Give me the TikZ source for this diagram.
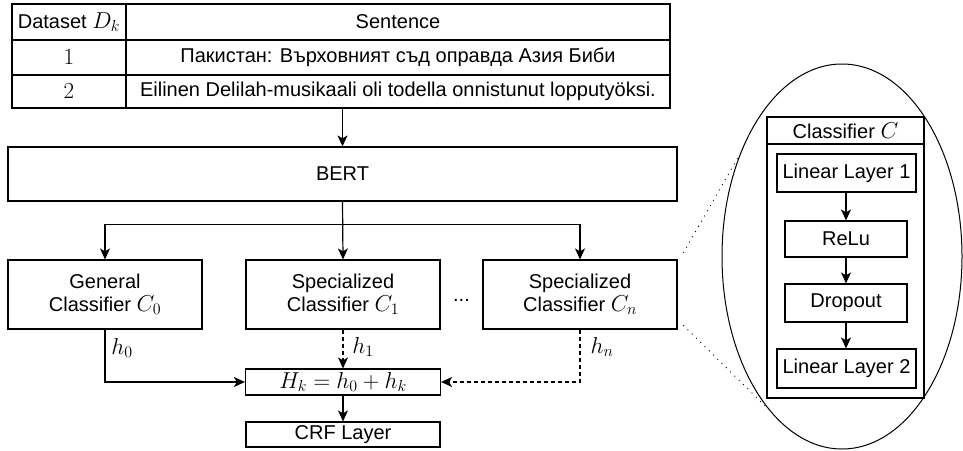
\RequirePackage{fix-cm}
\documentclass[tikz,border=0pt]{standalone}
\usepackage{fontspec}
\setmainfont{Liberation Sans}
\DeclareMathSizes{20}{23}{16}{12}
\usetikzlibrary{arrows.meta,shapes.geometric,calc}
\begin{document}
\begin{tikzpicture}[x=1pt,y=-1pt,
  font=\fontsize{20}{23}\selectfont,
  box/.style={draw, line width=1.2pt, inner sep=0pt, align=center},
  arr/.style={line width=1.2pt, -{Stealth[length=11pt,width=10pt,inset=3pt]}},
  dsh/.style={dash pattern=on 4pt off 3pt},
  dots/.style={line width=1.3pt, line cap=round, dash pattern=on 0pt off 6pt},
  lab/.style={inner sep=0pt}]
\useasboundingbox (0,0) rectangle (963,450);

% table
\node[box, minimum width=114pt, minimum height=36pt] (t11) at (69,22) {Dataset $D_k$};
\node[box, minimum width=544pt, minimum height=36pt] (t12) at (398,22) {Sentence};
\node[box, minimum width=114pt, minimum height=35pt] (t21) at (69,57.5) {$1$};
\node[box, minimum width=544pt, minimum height=35pt] (t22) at (398,57.5) {Пакистан: Върховният съд оправда Азия Биби};
\node[box, minimum width=114pt, minimum height=33pt] (t31) at (69,91.5) {$2$};
\node[box, minimum width=544pt, minimum height=33pt] (t32) at (398,91.5) {Eilinen Delilah-musikaali oli todella onnistunut lopputyöksi.};

% BERT
\node[box, minimum width=669pt, minimum height=54pt] (bert) at (342.5,174) {BERT};

% classifiers
\node[box, minimum width=194pt, minimum height=69pt] (gen) at (105,294.5) {General\\Classifier $C_0$};
\node[box, minimum width=194pt, minimum height=69pt] (c1) at (343,294.5) {Specialized\\Classifier $C_1$};
\node[box, minimum width=194pt, minimum height=69pt] (cn) at (580,294.5) {Specialized\\Classifier $C_n$};
\node[lab, anchor=base] (dd) at (461.5,301) {...};

% sum and CRF
\node[box, minimum width=195pt, minimum height=26pt] (hk) at (343,382) {$H_k = h_0 + h_k$};
\node[box, minimum width=194pt, minimum height=25pt] (crf) at (343,434.5) {CRF Layer};

% labels
\node[lab] (l0) at (122,348) {$h_0$};
\node[lab] (l1) at (363,347) {$h_1$};
\node[lab] (ln) at (602,347) {$h_n$};

% connectors
\draw[arr] (t31.south -| bert.north) -- (bert.north);
\draw[arr] (bert.south) -- (c1.north);
\draw[arr] (bert.south) -- ++(0,23) -| (gen.north);
\draw[arr] (bert.south) -- ++(0,23) -| (cn.north);
\draw[arr] (gen.south) |- (hk.west);
\draw[arr, dsh] (c1.south) -- (hk.north);
\draw[arr, dsh] (cn.south) |- (hk.east);
\draw[arr] (hk.south) -- (crf.north);

% zoom ellipse
\node[draw, line width=1pt, ellipse, inner sep=0pt, minimum width=240pt, minimum height=385pt] (zoom) at (842,256.5) {};
\draw[dots] ($(cn.north east)+(6,-7)$) -- (zoom.135);
\draw[dots] ($(cn.south east)+(6,-4)$) -- (zoom.244);

% classifier C panel
\node[box, minimum width=157pt, minimum height=281pt] (panel) at (845.5,257.5) {};
\draw[line width=1.2pt] (panel.west |- 0,144) -- (panel.east |- 0,144);
\node[lab] (ptitle) at (845.5,131) {Classifier $C$};
\node[box, minimum width=139pt, minimum height=38pt] (ll1) at (846.5,173) {Linear Layer 1};
\node[box, minimum width=122pt, minimum height=36pt] (relu) at (846,239) {ReLu};
\node[box, minimum width=122pt, minimum height=38pt] (drop) at (846,303) {Dropout};
\node[box, minimum width=139pt, minimum height=39pt] (ll2) at (846.5,368.5) {Linear Layer 2};
\draw[arr] (ll1.south -| relu.north) -- (relu.north);
\draw[arr] (relu.south) -- (drop.north);
\draw[arr] (drop.south) -- (drop.south |- ll2.north);
\end{tikzpicture}
\end{document}
